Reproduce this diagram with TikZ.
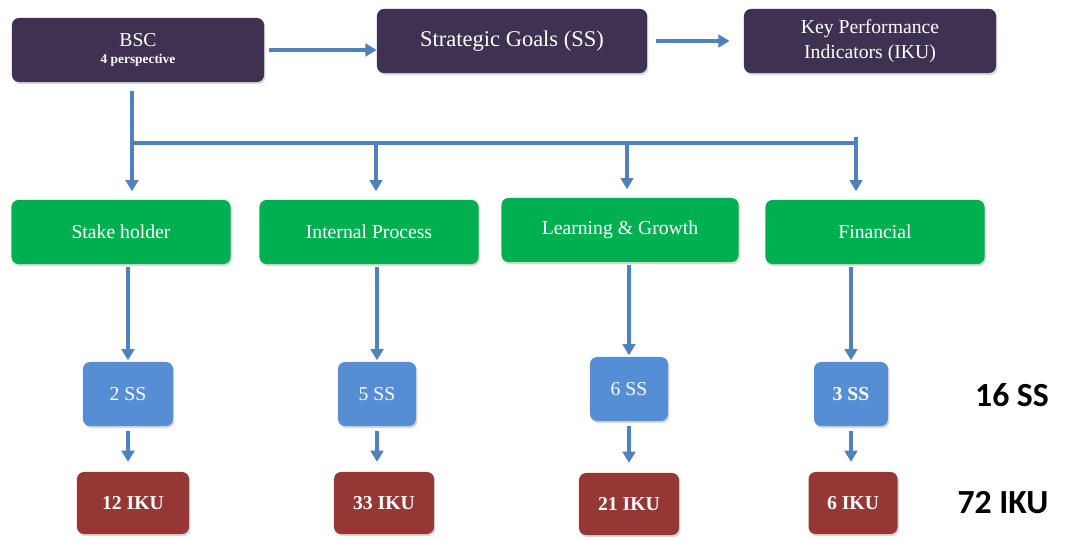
\documentclass[tikz,border=0pt]{standalone}
\usepackage{fontspec}
\setmainfont{Liberation Serif}
\newfontfamily\totalfont{Carlito}
\usetikzlibrary{arrows.meta,calc,positioning,shadows}
\definecolor{bscpurple}{HTML}{3F3151}
\definecolor{perspgreen}{HTML}{00B050}
\definecolor{ssblue}{HTML}{558ED5}
\definecolor{ikured}{HTML}{953735}
\definecolor{flowblue}{HTML}{4F81BD}
\tikzset{
    x=0.025cm, y=-0.025cm,
    box/.style = {rectangle, rounded corners=5pt, text=white, align=center, inner sep=2pt,
                  drop shadow={shadow xshift=1pt, shadow yshift=-1.5pt, opacity=.3}},
    top/.style = {box, fill=bscpurple, minimum width=6.3cm, minimum height=1.6cm, font=\fontsize{14}{17}\selectfont},
    persp/.style = {box, fill=perspgreen, minimum width=5.475cm, minimum height=1.6cm, font=\fontsize{14}{16}\selectfont},
    ss/.style = {box, fill=ssblue, minimum width=1.95cm, minimum height=1.6cm, font=\fontsize{14}{16}\selectfont},
    iku/.style = {box, fill=ikured, minimum width=2.5cm, minimum height=1.55cm, font=\bfseries\fontsize{14}{16}\selectfont},
    flow/.style = {-{Triangle[width=9pt,length=8pt]}, draw=flowblue, line width=2.8pt},
    total/.style = {font=\totalfont\bfseries\fontsize{24}{28}\selectfont}
}

\begin{document}
\begin{tikzpicture}
	\useasboundingbox (0,0) rectangle (1070,539);
	% top row
	\node[top] (bsc) at (138,50) {BSC\\[-5pt]{\bfseries\fontsize{9.5}{10}\selectfont 4 perspective}};
	\node[top, minimum width=6.75cm, font=\fontsize{16}{18}\selectfont] (sg) at (512,41) {Strategic Goals (SS)};
	\node[top, font=\fontsize{14}{18}\selectfont] (kpi) at (870,41) {Key Performance\\Indicators (IKU)};

	% perspectives
	\node[persp] (sh) at (121,232) {Stake holder};
	\node[persp] (ip) at (369,232) {Internal Process};
	\node[persp, minimum width=5.925cm] (lg) at (620,230) {Learning \& Growth};
	\node[persp] (fi) at (875,232) {Financial};

	\node[ss, minimum width=2.25cm] (ss1) at (128,394) {2 SS};
	\node[ss] (ss2) at (377,394) {5 SS};
	\node[ss] (ss3) at (629,389) {6 SS};
	\node[ss, minimum width=1.85cm, font=\bfseries\fontsize{14}{16}\selectfont] (ss4) at (851,394) {3 SS};

	\node[iku, minimum width=2.8cm] (iku1) at (133,503) {12 IKU};
	\node[iku] (iku2) at (384,503) {33 IKU};
	\node[iku] (iku3) at (629,504) {21 IKU};
	\node[iku, minimum width=2.225cm] (iku4) at (853,503) {6 IKU};

	\node[total] (sstot) at (1012,395) {16 SS};
	\node[total] (ikutot) at (1003,503) {72 IKU};

	\coordinate (j1) at (132,143);
	\coordinate (j2) at (376,143);
	\coordinate (j3) at (627,143);
	\coordinate (j4) at (856,143);

	\draw[flow, shorten <=3pt] (bsc.east) -- (sg.west |- bsc.east);
	\draw[flow, shorten <=6pt, shorten >=10pt] (sg.east) -- (kpi.west |- sg.east);

	\draw[flow, -] (j1) -- (j4);
	\draw[flow, shorten <=6pt, shorten >=6pt] (bsc.south -| j1) -- (sh.north -| j1);
	\draw[flow, shorten >=6pt] ([yshift=4pt]j4) -- (fi.north -| j4);
	\foreach \j/\n in {j2/ip,j3/lg}
		\draw[flow, shorten >=6pt] (\j) -- (\n.north -| \j);

	\foreach \p/\s/\i in {sh/ss1/iku1,ip/ss2/iku2,lg/ss3/iku3,fi/ss4/iku4}{
		\draw[flow, shorten <=2pt, shorten >=1pt] (\p.south -| \s) -- (\s);
		\draw[flow, shorten <=3pt, shorten >=7pt] (\s) -- (\i.north -| \s);
	}
\end{tikzpicture}
\end{document}
